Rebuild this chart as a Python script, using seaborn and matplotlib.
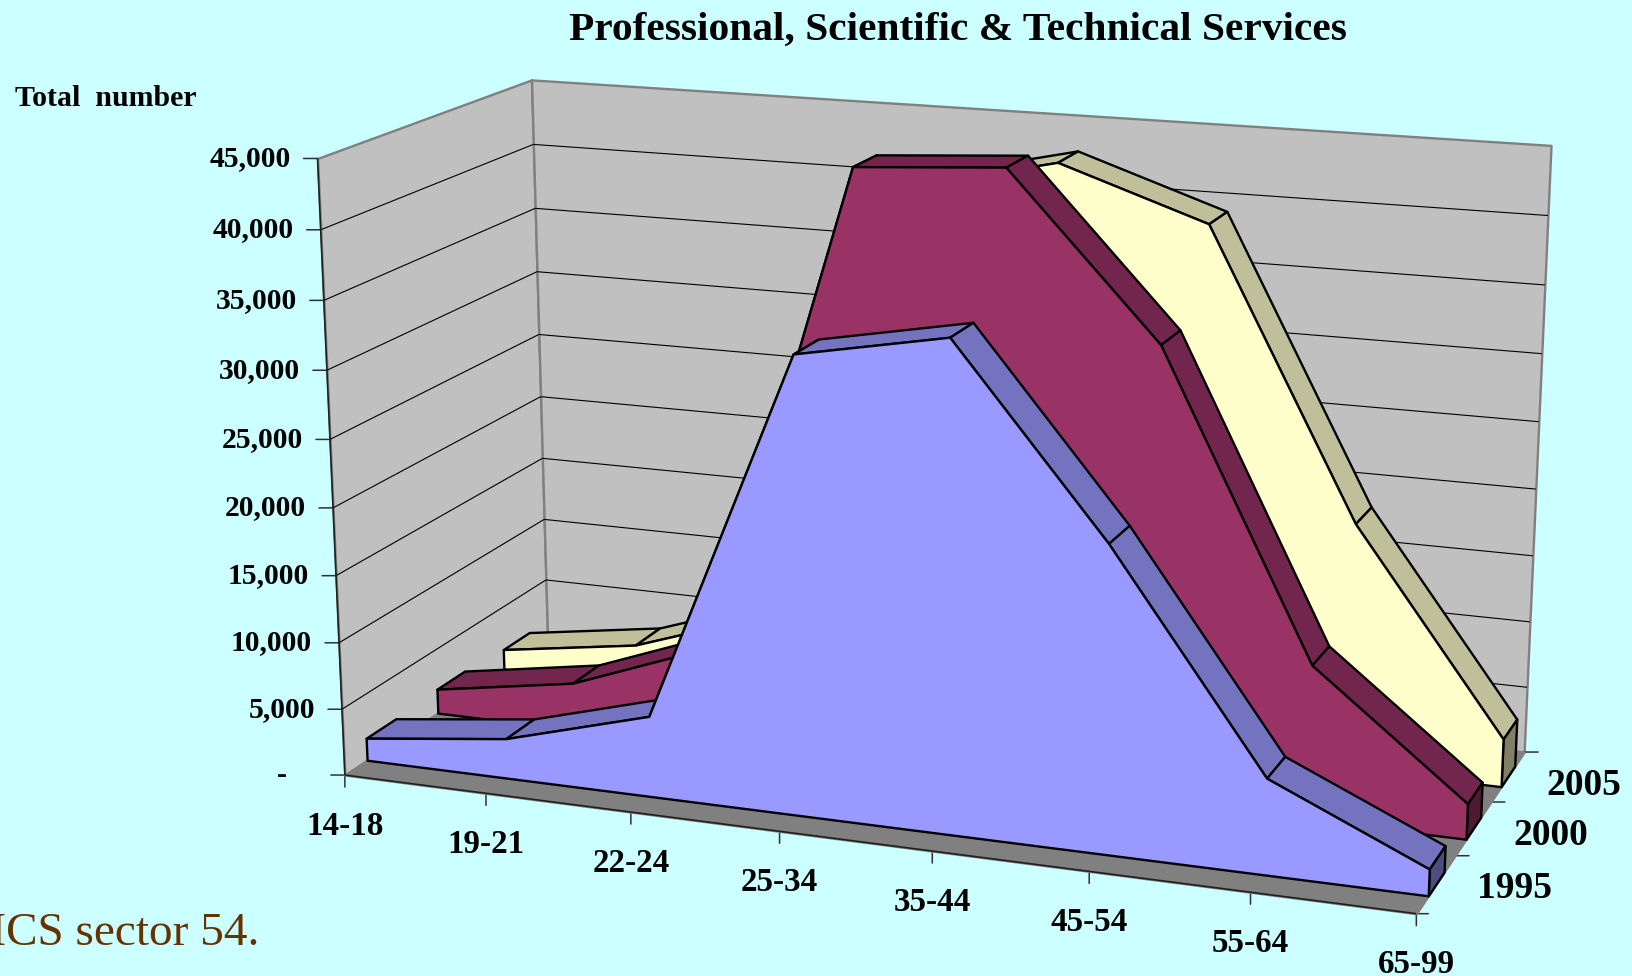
import matplotlib
matplotlib.use('Agg')
import matplotlib.pyplot as plt
import seaborn as sns
from mpl_toolkits.mplot3d.art3d import Poly3DCollection, Line3DCollection

import numpy as np

W, H = 1632, 976
bgcol = '#CCFFFF'
wallcol = '#C0C0C0'
floorcol = '#808080'

categories = ['14-18', '19-21', '22-24', '25-34', '35-44', '45-54', '55-64', '65-99']
years = ['1995', '2000', '2005']
vals_1995 = [1700, 3000, 6000, 33200, 35280, 22100, 6900, 1900]
vals_2000 = [1900, 3650, 7700, 44000, 44710, 33150, 11350, 2600]
vals_2005 = [1600, 3200, 6900, 40500, 43000, 39350, 18450, 3600]
ytick_vals = [0, 5000, 10000, 15000, 20000, 25000, 30000, 35000, 40000, 45000]
ytick_labels = ['-', '5,000', '10,000', '15,000', '20,000', '25,000', '30,000', '35,000', '40,000', '45,000']

series = [vals_1995, vals_2000, vals_2005]
palette = sns.color_palette(['#9999FF', '#993366', '#FFFFCC'])

sns.set_theme(style='white', rc={'figure.facecolor': bgcol, 'savefig.facecolor': bgcol})
plt.rcParams['font.family'] = ['Liberation Serif', 'DejaVu Serif']

# Excel's 3D view: solve a camera from where the box corners sit in the picture
# (category, depth, value) -> pixel
xmax = len(categories) - 1
dmax = len(years)
vmax = ytick_vals[-1]
camera_pts = [((0, 0, 0), (344.3, 775.7)),
              ((xmax, 0, 0), (1417.3, 912.7)),
              ((xmax, dmax, 0), (1523.3, 753.3)),
              ((0, 0, vmax), (317.5, 160)),
              ((0, dmax, vmax), (531.5, 79)),
              ((xmax, dmax, vmax), (1551, 145)),
              ((0, dmax, 5000), (546.7, 580)),
              ((0, 0, 5000), (341.7, 708))]

rows, rhs = [], []
for (x, d, v), (px, py) in camera_pts:
    v = v/vmax
    py = H - py
    rows.append([x, d, v, 1, 0, 0, 0, 0, -px*x, -px*d, -px*v])
    rows.append([0, 0, 0, 0, x, d, v, 1, -py*x, -py*d, -py*v])
    rhs += [px, py]
p = np.linalg.lstsq(np.array(rows), np.array(rhs), rcond=None)[0]
P = np.append(p, 1).reshape(3, 4)
P[:, 2] /= vmax
M = np.vstack([P[0], P[1], np.linalg.svd(P)[2][-1], P[2]])

fig = plt.figure(figsize=(W/100, H/100), dpi=100)
# 3d axes are forced square, so make the square as wide as the figure
ax = fig.add_axes([0, (H - W)/2/H, 1, W/H], projection='3d', computed_zorder=False)
ax.set_axis_off()
ax.patch.set_visible(False)


def get_proj():
    ax.viewLim.intervalx = (0, W)
    ax.viewLim.intervaly = ((H - W)/2, (H + W)/2)
    return M


ax.get_proj = get_proj
get_proj()

z = [1]


def poly(verts, face, edge='black', lw=1.7):
    z[0] += 1
    ax.add_collection3d(Poly3DCollection([verts], facecolors=[face], edgecolors=[edge],
                                         linewidths=lw, zorder=z[0], shade=False))


def lines(segs, color, lw):
    z[0] += 1
    ax.add_collection3d(Line3DCollection(segs, colors=color, linewidths=lw, zorder=z[0]))


def to_px(x, d, v):
    u = P @ np.array([x, d, v, 1.0])
    return u[0]/u[2], u[1]/u[2]


def tick(x, d, v, off):
    ax.annotate('', xy=to_px(x, d, v), xytext=off, textcoords='offset pixels',
                arrowprops=dict(arrowstyle='-', lw=1.1, color='#303030', shrinkA=0, shrinkB=0),
                zorder=3)


def label(x, d, v, text, off, size, ha='center'):
    ax.annotate(text, xy=to_px(x, d, v), xytext=off, textcoords='offset pixels',
                ha=ha, va='center', fontsize=size, fontweight='bold', color='black')


# walls and floor
poly([(0, 0, 0), (0, dmax, 0), (0, dmax, vmax), (0, 0, vmax)], wallcol, floorcol)
poly([(0, dmax, 0), (xmax, dmax, 0), (xmax, dmax, vmax), (0, dmax, vmax)], wallcol, floorcol)
poly([(0, 0, 0), (xmax, 0, 0), (xmax, dmax, 0), (0, dmax, 0)], floorcol, floorcol)

grid = []
for v in ytick_vals[1:-1]:
    grid.append([(0, 0, v), (0, dmax, v)])
    grid.append([(0, dmax, v), (xmax, dmax, v)])
lines(grid, 'black', 0.8)
lines([[(0, 0, 0), (0, 0, vmax)], [(0, 0, 0), (xmax, 0, 0)]], '#202020', 1.2)

# areas, back to front
gap_front, gap_back = 0.3, 0.71
for i in [2, 1, 0]:
    vals = series[i]
    col = np.array(palette[i])
    d0, d1 = i + gap_front, i + gap_back
    xs = range(len(vals))
    for x in xs[:-1]:
        poly([(x, d0, vals[x]), (x + 1, d0, vals[x + 1]), (x + 1, d1, vals[x + 1]), (x, d1, vals[x])],
             col*0.75)
    poly([(xmax, d0, 0), (xmax, d1, 0), (xmax, d1, vals[-1]), (xmax, d0, vals[-1])], col*0.5)
    front = [(0, d0, 0)] + [(x, d0, vals[x]) for x in xs] + [(xmax, d0, 0)]
    poly(front, col)

# ticks and labels
for v, text in zip(ytick_vals, ytick_labels):
    tick(0, 0, v, (-14, 0))
    label(0, 0, v, text, (-58 if v == 0 else -27, 0), 21.3, ha='right')
for x, text in enumerate(categories):
    tick(x, 0, 0, (0, -12))
    label(x, 0, 0, text, (0, -51), 23.8)
for i, text in enumerate(years):
    tick(xmax, i + 1, 0, (14, 0))
    label(xmax, i + 1, 0, text, (60, -33), 27)
tick(xmax, 0, 0, (12, 0))

fig.text(958/W, 1 - 30/H, 'Professional, Scientific & Technical Services',
         ha='center', va='center', fontsize=29.8, fontweight='bold', color='black')
fig.text(15/W, 1 - 99/H, 'Total  number', ha='left', va='center',
         fontsize=21.5, fontweight='bold', color='black')
fig.text(259/W, 1 - 934/H, 'NAICS sector 54.', ha='right', va='center',
         fontsize=34, color='#663300')

plt.savefig('out.png', dpi=100)
